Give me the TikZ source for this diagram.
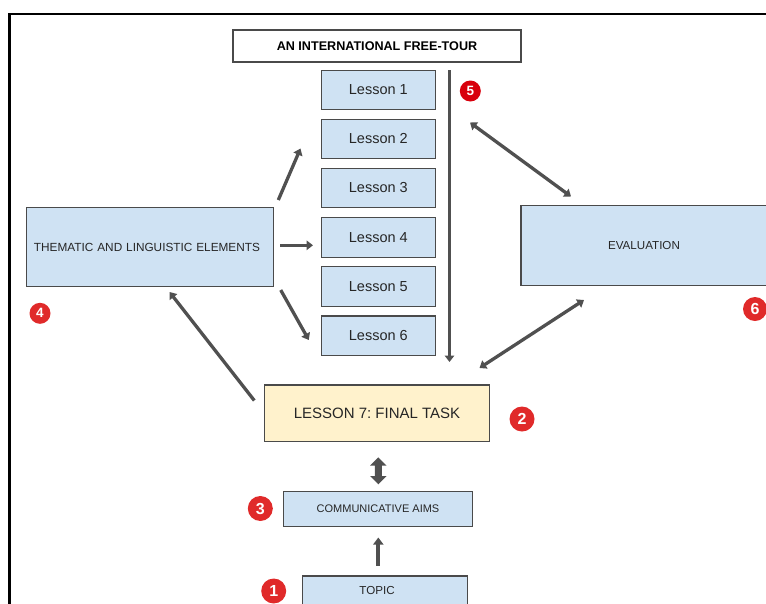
\documentclass[tikz,border=0pt]{standalone}
\usepackage{fontspec}
\setmainfont{Liberation Sans}
\usetikzlibrary{arrows.meta,calc}
\definecolor{boxblue}{HTML}{CFE2F3}
\definecolor{boxyellow}{HTML}{FFF2CC}
\definecolor{boxborder}{HTML}{4A4A4A}
\definecolor{badgered}{HTML}{E02A2A}
\definecolor{badgedark}{HTML}{D8000C}
\definecolor{arrowgray}{HTML}{505050}
\tikzset{
  bluebox/.style={draw=boxborder, fill=boxblue, line width=1.1pt, inner sep=0pt, outer sep=0pt, text=black!85},
  lessonbox/.style={bluebox, minimum width=114pt, minimum height=39.5pt, font=\fontsize{14.5}{16}\selectfont},
  badge/.style={circle, fill=badgered, text=white, inner sep=0pt, minimum size=25pt, font=\bfseries\fontsize{16}{18}\selectfont},
  smallbadge/.style={badge, minimum size=21pt, font=\bfseries\fontsize{13.5}{15}\selectfont},
  conn/.style={draw=arrowgray, line width=3.3pt, -{Triangle[length=6.5pt,width=9.5pt]}},
  dconn/.style={draw=arrowgray, line width=3.3pt, {Triangle[length=6.5pt,width=9.5pt]}-{Triangle[length=6.5pt,width=9.5pt]}},
}
\begin{document}
\frenchspacing
\begin{tikzpicture}[x=1pt,y=-1pt]
\useasboundingbox (0,0) rectangle (766,603);
\clip (0,0) rectangle (766,603);
% outer frame
\draw[line width=2.2pt, black] (9.5,640) -- (9.5,14) -- (800,14);
% title
\node[draw=boxborder, fill=white, line width=1.1pt, minimum width=288pt, minimum height=32pt, inner sep=0pt, font=\bfseries\fontsize{12.6}{14}\selectfont] (title) at (377,46) {AN INTERNATIONAL FREE-TOUR};
% lessons
\node[lessonbox] (l1) at (378.3,89.9) {Lesson 1};
\node[lessonbox] (l2) at (378.3,139.0) {Lesson 2};
\node[lessonbox] (l3) at (378.3,188.0) {Lesson 3};
\node[lessonbox] (l4) at (378.3,237.4) {Lesson 4};
\node[lessonbox] (l5) at (378.3,286.5) {Lesson 5};
\node[lessonbox] (l6) at (378.3,335.7) {Lesson 6};
% thematic
\node[bluebox, minimum width=246.6pt, minimum height=79.4pt, text width=232pt, align=left, inner xsep=7.3pt, font=\fontsize{11.8}{14}\selectfont] (th) at (150,247) {THEMATIC AND LINGUISTIC ELEMENTS};
% evaluation
\node[bluebox, minimum width=246pt, minimum height=79.6pt, font=\fontsize{11.6}{14}\selectfont] (ev) at (644,245.5) {EVALUATION};
% lesson 7
\node[draw=boxborder, fill=boxyellow, line width=1.1pt, inner sep=0pt, minimum width=224.6pt, minimum height=56.7pt, font=\fontsize{15}{18}\selectfont, text=black!85] (l7) at (377,413.3) {LESSON 7: FINAL TASK};
% communicative aims
\node[bluebox, minimum width=189.4pt, minimum height=35pt, font=\fontsize{11}{13}\selectfont] (ca) at (378,509.2) {COMMUNICATIVE AIMS};
% topic
\node[bluebox, minimum width=165.4pt, minimum height=40pt] (tp) at (385,596) {};
\node[font=\fontsize{11.6}{13}\selectfont, text=black!85] (tpt) at (377,590) {TOPIC};
% badges
\node[badge] (b1) at (273.7,591) {1};
\node[badge] (b2) at (522,419) {2};
\node[badge] (b3) at (260.3,508.5) {3};
\node[smallbadge] (b4) at (40,313.3) {4};
\node[smallbadge, fill=badgedark] (b5) at (470.3,91) {5};
\node[badge, minimum size=24pt] (b6) at (755,309) {6};
% coordinates for free ends
\coordinate (vtop) at (449.5,70);
\coordinate (vbot) at (449.5,362);
\coordinate (a1s) at (278.3,200);
\coordinate (a1e) at (300.5,148.5);
\coordinate (a2s) at (280,245.3);
\coordinate (a2e) at (313,245.3);
\coordinate (a3s) at (280.7,290);
\coordinate (a3e) at (308.8,340);
\coordinate (a4s) at (254.3,400.5);
\coordinate (a4e) at (169.5,292);
\coordinate (e1a) at (470,122.5);
\coordinate (e1b) at (571,196.5);
\coordinate (e2a) at (479.5,368);
\coordinate (e2b) at (584,300);
\coordinate (u1s) at (378.3,565.5);
\coordinate (u1e) at (378.3,537.5);
% connectors
\draw[conn] (vtop) -- (vbot);
\draw[conn] (a1s) -- (a1e);
\draw[conn] (a2s) -- (a2e);
\draw[conn] (a3s) -- (a3e);
\draw[conn] (a4s) -- (a4e);
\draw[dconn] (e1a) -- (e1b);
\draw[dconn] (e2a) -- (e2b);
\draw[conn, line width=3.8pt, -{Triangle[length=7pt,width=10pt]}] (u1s) -- (u1e);
% double block arrow between lesson 7 and communicative aims
\fill[arrowgray] (378.3,457.3) -- (386.5,465.5) -- (381.8,465.5) -- (381.8,476) -- (386.5,476) -- (378.3,484.3) -- (370.1,476) -- (374.8,476) -- (374.8,465.5) -- (370.1,465.5) -- cycle;
\end{tikzpicture}
\end{document}
